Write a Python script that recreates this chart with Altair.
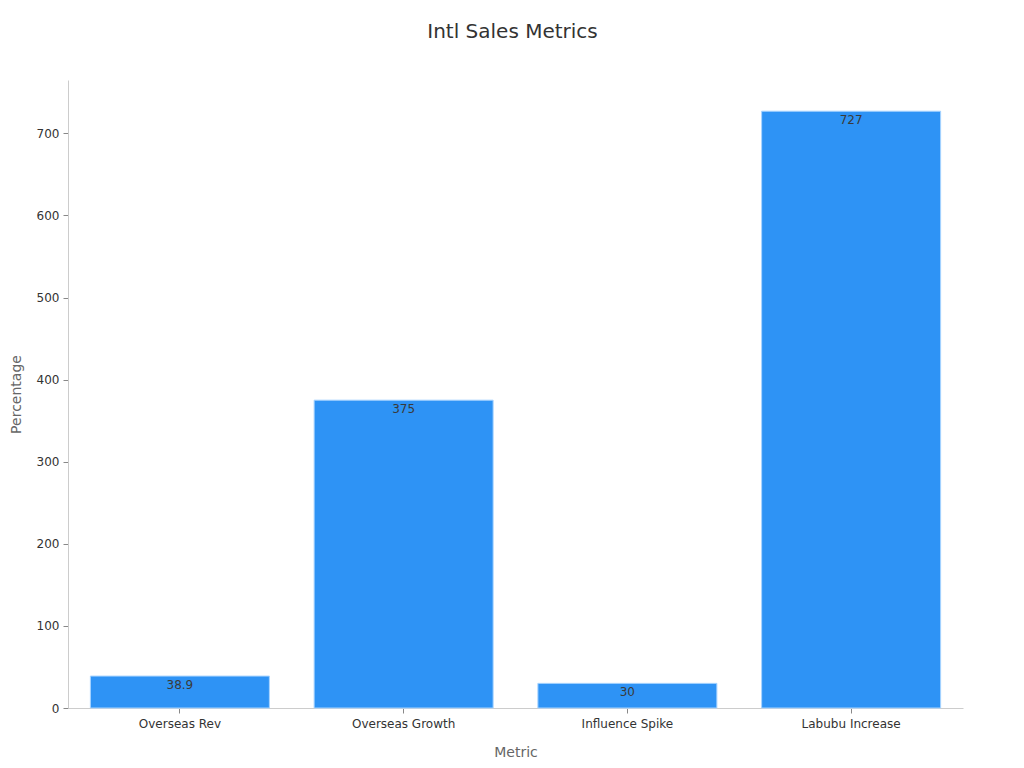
import altair as alt
import pandas as pd

metrics = ["Overseas Rev", "Overseas Growth", "Influence Spike", "Labubu Increase"]
values = [38.9, 375, 30, 727]
labels = ["38.9", "375", "30", "727"]

df = pd.DataFrame({"Metric": metrics, "Percentage": values, "Label": labels})

FONT = "DejaVu Sans"

base = alt.Chart(df).encode(
    x=alt.X("Metric:N", sort=metrics,
            scale=alt.Scale(paddingInner=0.2, paddingOuter=0.1),
            axis=alt.Axis(labelAngle=0, title="Metric", titlePadding=16, labelPadding=5)),
    y=alt.Y("Percentage:Q", scale=alt.Scale(domain=[0, 765], nice=False),
            axis=alt.Axis(values=[0, 100, 200, 300, 400, 500, 600, 700],
                          title="Percentage", titlePadding=13, grid=False)),
)

bars = base.mark_bar(color="#2E93F5", stroke="#A8D4FF", strokeWidth=1)
text = base.mark_text(baseline="top", dy=4, fontSize=12, color="#3A3A3A", font=FONT).encode(
    text="Label:N")

chart = (bars + text).properties(
    width=895, height=628,
    title=alt.TitleParams("Intl Sales Metrics", fontSize=20, font=FONT, fontWeight="normal",
                          color="#333333", offset=38, anchor="middle", dx=-3),
    autosize=alt.AutoSizeParams(type="none"),
    padding={"left": 60, "top": 72, "right": 53, "bottom": 52},
).configure_view(stroke=None).configure_axis(
    labelFont=FONT, titleFont=FONT, labelFontSize=12, titleFontSize=14,
    labelColor="#333333", titleColor="#666666", titleFontWeight="normal",
    domainColor="#CCCCCC", tickColor="#888888", tickSize=5, labelPadding=4,
)

chart.save("out.html", embed_options={"renderer": "svg", "actions": False})
